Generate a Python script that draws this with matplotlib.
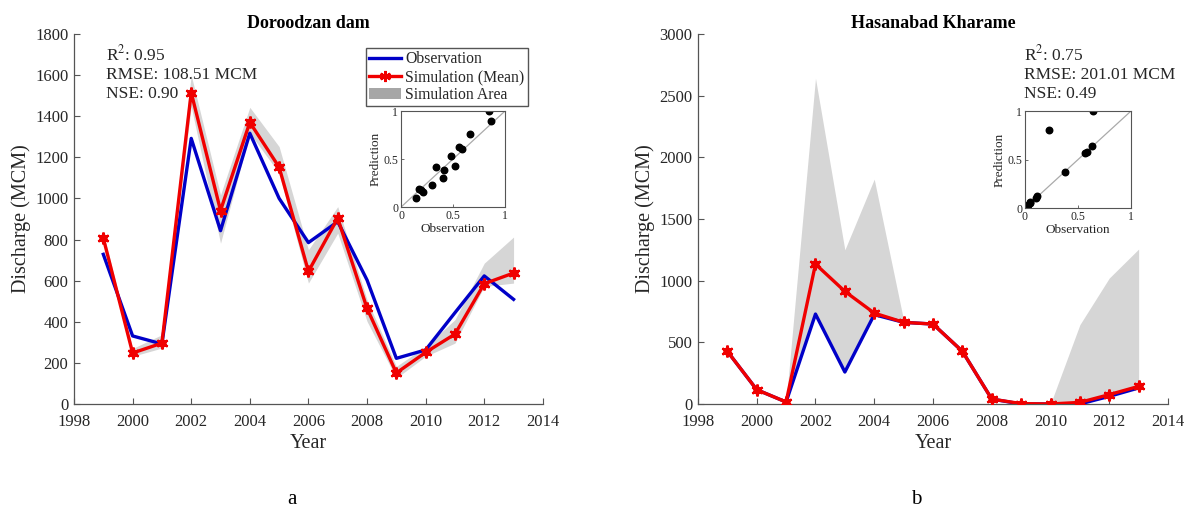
import matplotlib
matplotlib.use("Agg")
import matplotlib.pyplot as plt
from matplotlib.patches import Patch
from matplotlib.lines import Line2D

plt.rcParams['font.family'] = ['Liberation Serif', 'DejaVu Serif']
plt.rcParams['mathtext.fontset'] = 'stix'

years = list(range(1999, 2014))

# Doroodzan dam
dor_obs = [728, 331, 292, 1292, 843, 1317, 1000, 785, 887, 603, 222, 263, 444, 623, 509]
dor_sim = [807, 248, 296, 1515, 941, 1370, 1152, 645, 904, 465, 151, 251, 340, 585, 637]
dor_hi = [830, 270, 337, 1600, 1017, 1443, 1252, 750, 960, 507, 183, 280, 410, 685, 812]
dor_lo = [790, 232, 272, 1447, 782, 1317, 1123, 588, 831, 402, 126, 232, 296, 572, 588]
dor_sc_obs = [0.146, 0.177, 0.19, 0.215, 0.297, 0.335, 0.40, 0.41, 0.484, 0.52, 0.557, 0.59, 0.66, 0.85, 0.87]
dor_sc_pred = [0.097, 0.184, 0.18, 0.16, 0.226, 0.42, 0.306, 0.385, 0.53, 0.427, 0.625, 0.60, 0.757, 1.0, 0.90]
dor_stats = ["R$^2$: 0.95", "RMSE: 108.51 MCM", "NSE: 0.90"]

# Hasanabad Kharame
has_obs = [427, 116, 16, 729, 259, 724, 662, 648, 427, 40, 0, 0, 0, 62, 130]
has_sim = [427, 116, 16, 1134, 913, 737, 662, 648, 427, 40, 3, 0, 13, 76, 143]
has_hi = [427, 116, 16, 2641, 1250, 1823, 680, 648, 427, 40, 3, 0, 643, 1021, 1256]
has_lo = [427, 116, 16, 729, 259, 724, 662, 648, 427, 40, 0, 0, 0, 62, 130]
has_sc_obs = [0.0, 0.008, 0.016, 0.03, 0.047, 0.05, 0.10, 0.116, 0.225, 0.38, 0.57, 0.585, 0.634, 0.64, 0.02]
has_sc_pred = [0.0, 0.005, 0.01, 0.03, 0.05, 0.06, 0.10, 0.12, 0.80, 0.375, 0.57, 0.58, 0.64, 1.0, 0.02]
has_stats = ["R$^2$: 0.75", "RMSE: 201.01 MCM", "NSE: 0.49"]

BLUE = '#0000c8'
RED = '#f00000'
AREA = '#d6d6d6'
SPINE = '#555555'
TXT = '#262626'

fig = plt.figure(figsize=(11.84, 5.19), dpi=100)


def panel(rect, obs, sim, hi, lo, ymax, ystep, title, stats, stats_xy, letter, inset_rect,
          sc_x, sc_y, legend=False):
    ax = fig.add_axes(rect)
    ax.fill_between(years, lo, hi, color=AREA, lw=0, zorder=1)
    ax.plot(years, obs, color=BLUE, lw=2.4, zorder=3)
    ax.plot(years, sim, color=RED, lw=2.4, zorder=4)
    ax.plot(years, sim, ls='none', marker=(6, 2, 0), ms=8.5, mew=1.7, color=RED, zorder=5)
    ax.plot(years, sim, ls='none', marker='o', ms=5, color=RED, zorder=5)
    ax.set_xlim(1998, 2014)
    ax.set_ylim(0, ymax)
    ax.set_xticks(range(1998, 2015, 2))
    ax.set_yticks(range(0, ymax + 1, ystep))
    ax.spines['top'].set_visible(False)
    ax.spines['right'].set_visible(False)
    for s in ('left', 'bottom'):
        ax.spines[s].set_color(SPINE)
        ax.spines[s].set_linewidth(0.9)
    ax.tick_params(direction='in', labelsize=12, length=4, width=0.8,
                   color=SPINE, labelcolor=TXT)
    ax.tick_params(axis='x', pad=7)
    ax.tick_params(axis='y', pad=4)
    ax.set_xlabel('Year', fontsize=14.5, labelpad=3, color=TXT)
    ax.set_ylabel('Discharge (MCM)', fontsize=14.5, labelpad=3, color=TXT)
    ax.set_title(title, fontsize=13, fontweight='bold', pad=4)
    fig.text(stats_xy[0], stats_xy[1], "\n".join(stats), fontsize=12.5, color=TXT,
             va='top', ha='left', linespacing=1.25)
    fig.text(rect[0] + rect[2] * 0.465, 0.02, letter, fontsize=15, ha='center', va='bottom')
    if legend:
        handles = [Line2D([], [], color=BLUE, lw=2.4),
                   Line2D([], [], color=RED, lw=2.4, marker=(6, 2, 0), ms=8, mew=1.7),
                   Patch(facecolor='#a6a6a6', edgecolor='none')]
        leg = ax.legend(handles, ['Observation', 'Simulation (Mean)', 'Simulation Area'],
                        loc='upper right', bbox_to_anchor=(0.968, 0.962), fontsize=11.3,
                        frameon=True, fancybox=False, edgecolor='#555555', framealpha=1,
                        borderpad=0.2, labelspacing=0.12, handlelength=2.0,
                        handletextpad=0.3, borderaxespad=0)
        for t in leg.get_texts():
            t.set_color(TXT)
    ins = fig.add_axes(inset_rect)
    ins.plot([0, 1], [0, 1], color='#aaaaaa', lw=0.9, zorder=1)
    ins.scatter(sc_x, sc_y, s=22, color='black', zorder=2)
    ins.set_xlim(0, 1)
    ins.set_ylim(0, 1)
    ins.set_xticks([0, 0.5, 1])
    ins.set_yticks([0, 0.5, 1])
    ins.set_xticklabels(['0', '0.5', '1'])
    ins.set_yticklabels(['0', '0.5', '1'])
    ins.tick_params(direction='in', labelsize=8.5, length=2.5, width=0.6, pad=2,
                    color=SPINE, labelcolor=TXT)
    for s in ins.spines.values():
        s.set_linewidth(0.8)
        s.set_color(SPINE)
    ins.set_xlabel('Observation', fontsize=9.5, labelpad=1, color=TXT)
    ins.set_ylabel('Prediction', fontsize=9.5, labelpad=1, color=TXT)
    return ax


panel([0.0625, 0.2216, 0.396, 0.713], dor_obs, dor_sim, dor_hi, dor_lo, 1800, 200,
      'Doroodzan dam', dor_stats, (0.0895, 0.915), 'a',
      [0.3387, 0.601, 0.0878, 0.185], dor_sc_obs, dor_sc_pred, legend=True)
panel([0.5895, 0.2216, 0.397, 0.713], has_obs, has_sim, has_hi, has_lo, 3000, 500,
      'Hasanabad Kharame', has_stats, (0.8645, 0.915), 'b',
      [0.8657, 0.599, 0.0895, 0.187], has_sc_obs, has_sc_pred)

fig.savefig('out.png', dpi=100)
